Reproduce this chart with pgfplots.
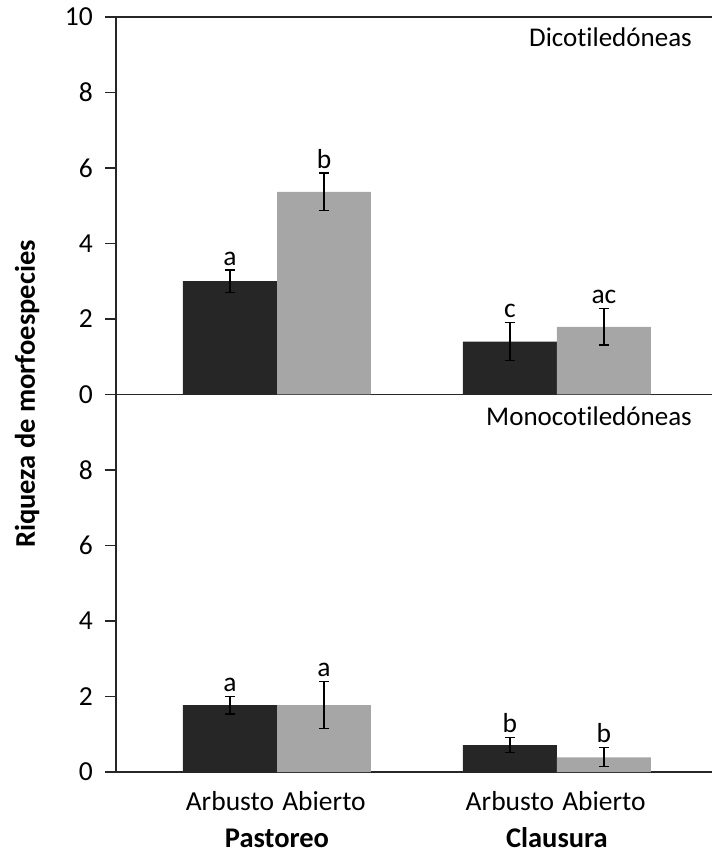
\documentclass[border=0pt]{standalone}
\usepackage{fontspec}
\setmainfont{Carlito}[Ligatures=NoCommon]
\usepackage{pgfplots}
\pgfplotsset{compat=1.18}
\definecolor{darkbar}{HTML}{262626}
\definecolor{lightbar}{HTML}{A6A6A6}
\begin{document}
\fontsize{27}{32}\selectfont
\begin{tikzpicture}[x=1pt,y=1pt]
\useasboundingbox (0,0) rectangle (712,854);
\pgfplotsset{
  panel/.style={
    scale only axis, width=596pt, height=377.5pt,
    xmin=0.425, xmax=2.554, ymin=0, ymax=10,
    anchor=south west,
    axis y line*=left,
    tick align=outside,
    major tick length=11pt,
    ytick style={line width=1.3pt, color=black!85},
    xtick style={draw=none},
    axis line style={line width=1.3pt, black!85},
    /pgf/number format/assume math mode=true,
    tick label style={font=\fontsize{27.5}{32}\selectfont},
    yticklabel style={xshift=-3pt},
    clip=false,
  },
  barstyle/.style={ybar, bar width=0.3357, bar shift=0pt, draw=none, fill=#1,
    error bars/y dir=both, error bars/y explicit,
    error bars/error bar style={line width=1.3pt, black},
    error bars/error mark options={rotate=90, mark size=5pt, line width=1.3pt, black}},
  letters/.style={draw=none, mark=none, nodes near coords, point meta=explicit symbolic,
    every node near coord/.append style={anchor=south, font=\fontsize{27.5}{32}\selectfont, inner sep=4.5pt}},
}
% ---------- top panel: Dicotiledoneas ----------
\begin{axis}[panel, at={(116pt,459.5pt)}, axis x line*=box,
  ytick={0,2,4,6,8,10}, xtick=\empty]
\addplot[barstyle=darkbar] coordinates {(0.832,3.0) +- (0,0.3) (1.832,1.4) +- (0,0.5)};
\addplot[barstyle=lightbar] coordinates {(1.168,5.37) +- (0,0.5) (2.168,1.79) +- (0,0.48)};
\addplot[letters] coordinates {(0.832,3.3) [a] (1.168,5.87) [b] (1.832,1.9) [c] (2.168,2.27) [ac]};
\end{axis}
% ---------- bottom panel: Monocotiledoneas ----------
\begin{axis}[panel, at={(116pt,82pt)}, axis x line*=bottom,
  ytick={0,2,4,6,8},
  xtick={0.832,1.168,1.832,2.168},
  xticklabels={Arbusto,Abierto,Arbusto,Abierto},
  xticklabel style={yshift=1pt}]
\addplot[barstyle=darkbar] coordinates {(0.832,1.77) +- (0,0.23) (1.832,0.71) +- (0,0.2)};
\addplot[barstyle=lightbar] coordinates {(1.168,1.77) +- (0,0.62) (2.168,0.39) +- (0,0.25)};
\addplot[letters] coordinates {(0.832,2.0) [a] (1.168,2.39) [a] (1.832,0.91) [b] (2.168,0.64) [b]};
\node[font=\fontsize{28.5}{33}\bfseries] at (axis cs:1,0) [yshift=-66pt] {Pastoreo};
\node[font=\fontsize{28.5}{33}\bfseries] at (axis cs:2,0) [yshift=-66pt] {Clausura};
\end{axis}
\node[anchor=east] at (701,817) {Dicotiledóneas};
\node[anchor=east] at (701,438) {Monocotiledóneas};
\node[rotate=90, font=\fontsize{28.5}{33}\bfseries] at (27,460) {Riqueza de morfoespecies};
\end{tikzpicture}
\end{document}
